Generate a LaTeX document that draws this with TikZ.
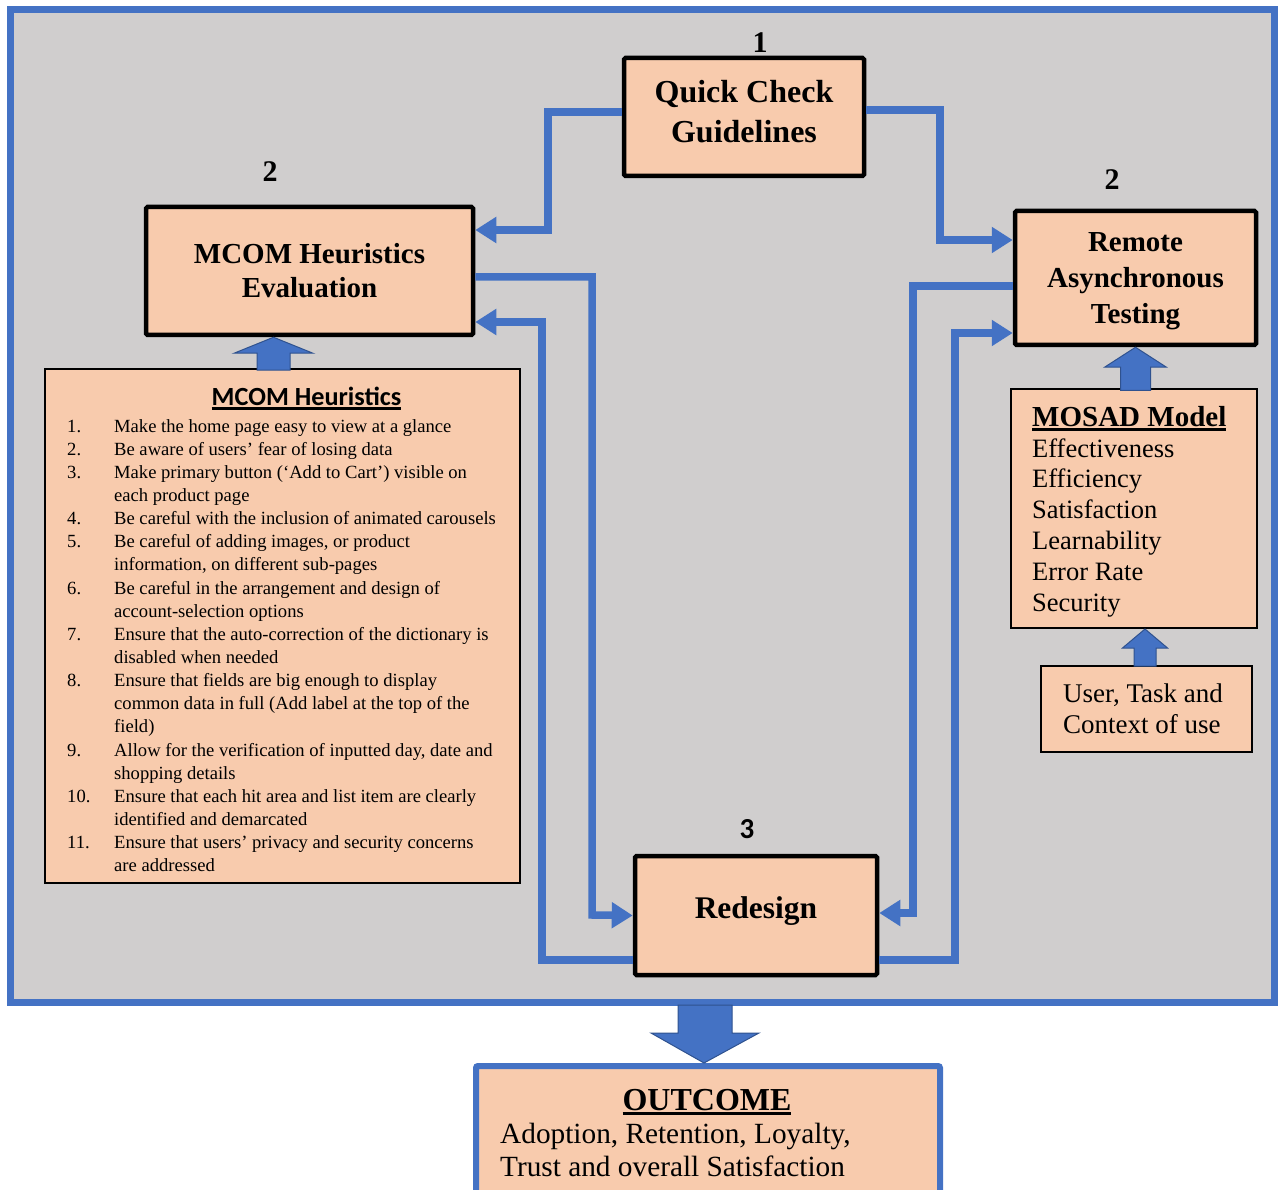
\documentclass[tikz,border=0pt]{standalone}
\usepackage{fontspec}
\setmainfont{Liberation Serif}
\newfontfamily\calibri{Carlito}
\usetikzlibrary{arrows.meta}
\definecolor{frameblue}{HTML}{4472C4}
\definecolor{arrowedge}{HTML}{2F528F}
\definecolor{panelgray}{HTML}{D0CECE}
\definecolor{peach}{HTML}{F8CBAD}
% thick underline for headings
\newcommand{\ulbar}[1]{\leavevmode\setbox0=\hbox{#1}\rlap{\raisebox{-4.5pt}{\rule{\wd0}{2.4pt}}}\box0}

\begin{document}
\begin{tikzpicture}[x=1pt,y=-1pt,
  stage/.style={draw=black, line width=4.5pt, fill=peach, align=center, inner sep=0pt, rounded corners=1.5pt},
  panel/.style={draw=black, line width=2pt, fill=peach, inner sep=0pt},
  flow/.style={draw=frameblue, line width=7.5pt, -{Triangle[length=21pt,width=25pt]}},
  block/.style={fill=frameblue, draw=arrowedge, line width=1pt, line join=miter},
  stepnum/.style={font=\bfseries\fontsize{30}{32}\selectfont, inner sep=0pt}
]
\useasboundingbox (0,0) rectangle (1283,1190);
\clip (0,0) rectangle (1283,1190);

% grey working area with blue frame
\draw[frameblue, line width=7pt, fill=panelgray] (10,10) rectangle (1274,1002);

% process stages
\node[stage, minimum width=240pt, minimum height=118pt,
      font=\bfseries\fontsize{32}{40}\selectfont] (qc) at (744,117) {Quick Check\\Guidelines\rule[-12pt]{0pt}{12pt}};
\node[stage, minimum width=327pt, minimum height=128pt,
      font=\bfseries\fontsize{29}{34}\selectfont] (eval) at (309.5,271) {MCOM Heuristics\\Evaluation};
\node[stage, minimum width=241pt, minimum height=134pt,
      font=\bfseries\fontsize{29}{36}\selectfont] (rat) at (1135.5,278) {\rule{0pt}{26pt}Remote\\Asynchronous\\Testing};
\node[stage, minimum width=242pt, minimum height=119pt,
      font=\bfseries\fontsize{31.5}{36}\selectfont] (red) at (756,915.5) {Redesign\rule[-15pt]{0pt}{15pt}};

% stage numbers
\node[stepnum] (n1) at (760,43) {1};
\node[stepnum] (n2a) at (270,172) {2};
\node[stepnum] (n2b) at (1112,180) {2};
\node[stepnum, font=\calibri\bfseries\fontsize{29}{31}\selectfont] (n3) at (747,829) {3};

% heuristics list
\node[panel, minimum width=475pt, minimum height=514pt] (list) at (282.5,626) {};
\node[anchor=base, inner sep=0pt, font=\calibri\bfseries\fontsize{26.2}{28}\selectfont] (listtitle) at (306.5,405) {\ulbar{MCOM Heuristics}};
\node[anchor=base west, inner sep=0pt, font=\fontsize{18.6}{23.15}\selectfont] (items) at (67,432) {%
\begin{tabular}[t]{@{}p{47pt}@{}l@{}}
1. & Make the home page easy to view at a glance\\
2. & Be aware of users’ fear of losing data\\
3. & Make primary button (‘Add to Cart’) visible on\\
   & each product page\\
4. & Be careful with the inclusion of animated carousels\\
5. & Be careful of adding images, or product\\
   & information, on different sub-pages\\
6. & Be careful in the arrangement and design of\\
   & account-selection options\\
7. & Ensure that the auto-correction of the dictionary is\\
   & disabled when needed\\
8. & Ensure that fields are big enough to display\\
   & common data in full (Add label at the top of the\\
   & field)\\
9. & Allow for the verification of inputted day, date and\\
   & shopping details\\
10. & Ensure that each hit area and list item are clearly\\
   & identified and demarcated\\
11. & Ensure that users’ privacy and security concerns\\
   & are addressed
\end{tabular}};

% MOSAD model
\node[panel, minimum width=246pt, minimum height=239pt] (mosad) at (1134,508.5) {};
\node[anchor=base west, inner sep=0pt, font=\bfseries\fontsize{29}{31}\selectfont] (mosadtitle) at (1032,426) {\ulbar{MOSAD Model}};
\node[anchor=base west, inner sep=0pt, font=\fontsize{26.5}{30.9}\selectfont] (mosadlist) at (1032,457) {%
\begin{tabular}[t]{@{}l@{}}
Effectiveness\\ Efficiency\\ Satisfaction\\ Learnability\\ Error Rate\\ Security
\end{tabular}};

% context of use
\node[panel, minimum width=211pt, minimum height=86pt] (utc) at (1146.5,709) {};
\node[anchor=base west, inner sep=0pt, font=\fontsize{27}{31}\selectfont] (utctext) at (1063,702) {%
\begin{tabular}[t]{@{}l@{}}User, Task and\\ Context of use\end{tabular}};

% outcome
\node[draw=frameblue, line width=6pt, fill=peach, rounded corners=2pt,
      minimum width=464pt, minimum height=200pt, inner sep=0pt] (out) at (708,1166) {};
\begin{scope}
  \clip (480,1070) rectangle (936,1177);
  \node[anchor=base, inner sep=0pt, font=\bfseries\fontsize{32}{34}\selectfont] (outtitle) at (707,1110) {\ulbar{OUTCOME}};
  \node[anchor=base west, inner sep=0pt, font=\fontsize{29.3}{33}\selectfont] (outtext) at (500,1143) {%
  \begin{tabular}[t]{@{}l@{}}Adoption, Retention, Loyalty,\\ Trust and overall Satisfaction\end{tabular}};
\end{scope}

% feedback loop connectors
\draw[flow] ([yshift=5pt]qc.west) -| (548,230) -- ([yshift=41pt]eval.east);
\draw[flow] ([yshift=7pt]qc.east) -| (940,240) -- ([yshift=38pt]rat.west);
\draw[flow] ([yshift=-6pt]eval.east) -| (592,915) -- (red.west);
\draw[flow] ([yshift=-44.5pt]red.west) -| (542,322) -- ([yshift=-51pt]eval.east);
\draw[flow] ([yshift=-8pt]rat.west) -| (913,913) -- ([yshift=2.5pt]red.east);
\draw[flow] ([yshift=-44.5pt]red.east) -| (955,333) -- ([yshift=-55pt]rat.west);

% block arrows feeding the stages
\draw[block] ([xshift=-36pt]eval.south) -- ++(39.5,16) -- ++(-23,0) -- ++(0,17)
   -- ++(-33,0) -- ++(0,-17) -- ++(-23,0) -- cycle;
\draw[block] (rat.south) -- ++(31,20) -- ++(-16,0) -- ++(0,23)
   -- ++(-30,0) -- ++(0,-23) -- ++(-16,0) -- cycle;
\draw[block] ([xshift=11pt]mosad.south) -- ++(22.5,19) -- ++(-11.5,0) -- ++(0,18)
   -- ++(-22,0) -- ++(0,-18) -- ++(-11.5,0) -- cycle;
\draw[block] ([xshift=-4pt]out.north) -- ++(55,-30) -- ++(-27,0) -- ++(0,-28)
   -- ++(-54,0) -- ++(0,28) -- ++(-27,0) -- cycle;
\end{tikzpicture}
\end{document}
